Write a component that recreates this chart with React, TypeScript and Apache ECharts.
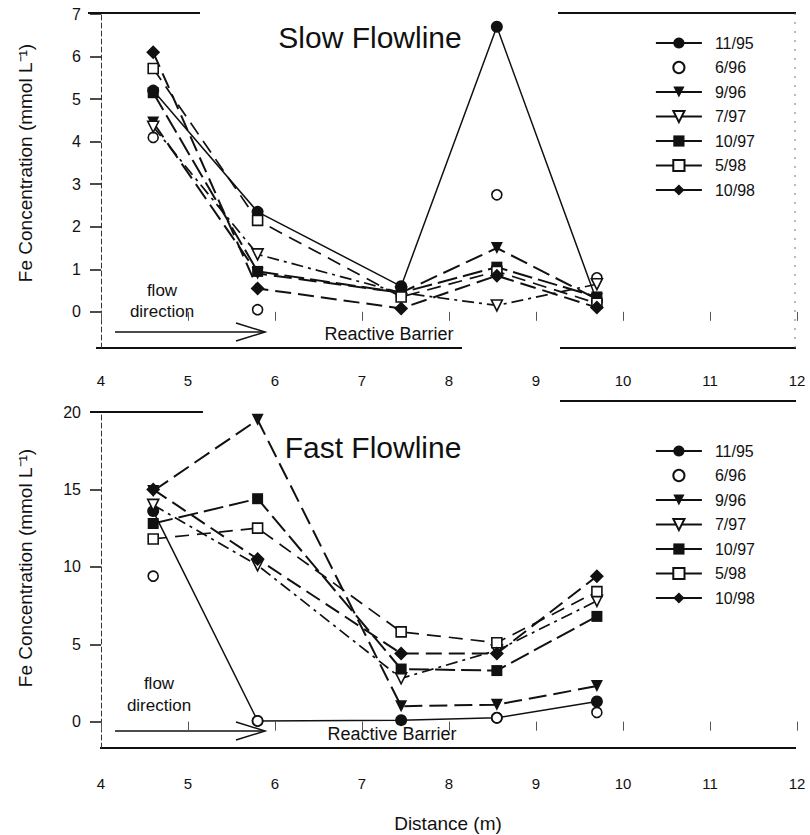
import React, { useEffect, useRef } from "react";
import * as echarts from "echarts";

// ---- data ----
const distances = [4.6, 5.8, 7.45, 8.55, 9.7];
const seriesNames = ["11/95", "6/96", "9/96", "7/97", "10/97", "5/98", "10/98"];

// Slow flowline (mmol/L)
const slow_11_95 = [5.2, 2.35, 0.6, 6.7, 0.25];
const slow_6_96 = [4.1, 0.05, 0.45, 2.75, 0.8];
const slow_9_96 = [4.45, 0.9, 0.45, 1.5, 0.3];
const slow_7_97 = [4.35, 1.35, 0.45, 0.15, 0.65];
const slow_10_97 = [5.15, 0.95, 0.45, 1.05, 0.35];
const slow_5_98 = [5.72, 2.15, 0.35, 0.95, 0.2];
const slow_10_98 = [6.1, 0.55, 0.08, 0.85, 0.1];

// Fast flowline (mmol/L)
const fast_11_95 = [13.6, 0.05, 0.1, 0.25, 1.3];
const fast_6_96 = [9.4, 0.05, null, 0.25, 0.6];
const fast_9_96 = [14.9, 19.5, 1.0, 1.1, 2.3];
const fast_7_97 = [14.0, 10.1, 2.8, 4.6, 7.8];
const fast_10_97 = [12.8, 14.4, 3.4, 3.3, 6.8];
const fast_5_98 = [11.8, 12.5, 5.8, 5.1, 8.4];
const fast_10_98 = [15.0, 10.5, 4.4, 4.4, 9.4];

const slowValues = [slow_11_95, slow_6_96, slow_9_96, slow_7_97, slow_10_97, slow_5_98, slow_10_98];
const fastValues = [fast_11_95, fast_6_96, fast_9_96, fast_7_97, fast_10_97, fast_5_98, fast_10_98];

const slowYTicks = [0, 1, 2, 3, 4, 5, 6, 7];
const fastYTicks = [0, 5, 10, 15, 20];

const FONT = "'Liberation Sans', Arial, Helvetica, sans-serif";
const INK = "#111";

type Style = { symbol: string; rotate: number; filled: boolean; size: number; line: any; width: number };
const styles: Style[] = [
  { symbol: "circle", rotate: 0, filled: true, size: 12, line: "solid", width: 1.5 },
  { symbol: "circle", rotate: 0, filled: false, size: 10, line: "solid", width: 0 },
  { symbol: "triangle", rotate: 180, filled: true, size: 12, line: [18, 7], width: 2 },
  { symbol: "triangle", rotate: 180, filled: false, size: 11, line: [12, 5, 3, 5], width: 1.7 },
  { symbol: "rect", rotate: 0, filled: true, size: 11, line: [20, 6], width: 2 },
  { symbol: "rect", rotate: 0, filled: false, size: 10, line: [14, 8], width: 1.7 },
  { symbol: "diamond", rotate: 0, filled: true, size: 14, line: [16, 7], width: 2 },
];

function buildSeries(values: (number | null)[][], panel: number) {
  return values.map((vals, i) => {
    const s = styles[i];
    return {
      type: "line",
      name: seriesNames[i],
      xAxisIndex: panel,
      yAxisIndex: panel,
      data: distances.map((d, j) => [d, vals[j]]),
      symbol: s.symbol,
      symbolRotate: s.rotate,
      symbolSize: s.size,
      showAllSymbol: true,
      connectNulls: false,
      itemStyle: { color: s.filled ? INK : "#fff", borderColor: INK, borderWidth: s.filled ? 0 : 1.6 },
      lineStyle: s.width === 0 ? { width: 0, opacity: 0 } : { color: INK, width: s.width, type: s.line },
      emphasis: { disabled: true },
    };
  });
}

function txt(x: number, y: number, text: string, size: number, extra: any = {}) {
  return {
    type: "text",
    x,
    y,
    silent: true,
    ...extra,
    style: { text, fill: INK, font: `${size}px ${FONT}`, align: "center", verticalAlign: "middle" },
  };
}
function ln(x1: number, y1: number, x2: number, y2: number, w = 1.8, dash: any = null, color = INK) {
  return {
    type: "line",
    silent: true,
    shape: { x1, y1, x2, y2 },
    style: { stroke: color, lineWidth: w, lineDash: dash },
  };
}
function arrow(y: number) {
  return [
    ln(115, y, 265, y, 1.5),
    { type: "polyline", silent: true, shape: { points: [[236, y - 9], [265, y], [236, y + 9]] }, style: { stroke: INK, lineWidth: 1.5, fill: null } },
  ];
}

export default function App() {
  const ref = useRef<HTMLDivElement>(null);
  useEffect(() => {
    document.body.style.margin = "0";
    if (!ref.current) return;
    const chart = echarts.init(ref.current, null, { renderer: "svg" });

    const xAxisBase = (gridIndex: number, margin: number) => ({
      type: "value",
      gridIndex,
      min: 4,
      max: 12,
      interval: 1,
      axisLine: { show: false },
      axisTick: { show: true, length: 9, lineStyle: { color: "#555", width: 1 } },
      axisLabel: { margin, color: INK, fontSize: 15, fontFamily: FONT },
      splitLine: { show: false },
    });
    const yAxisBase = (gridIndex: number, min: number, max: number, ticks: number[]) => ({
      type: "value",
      gridIndex,
      min,
      max,
      axisLine: { show: true, lineStyle: { color: "#333", width: 1, type: [5, 3] } },
      axisTick: { show: true, length: 11, customValues: ticks, lineStyle: { color: INK, width: 1.5 } },
      axisLabel: { margin: 20, customValues: ticks, color: INK, fontSize: 16, fontFamily: FONT },
      splitLine: { show: false },
    });
    const legendBase = (top: number) => ({
      orient: "vertical",
      left: 655,
      top,
      padding: 0,
      itemWidth: 46,
      itemHeight: 14,
      itemGap: 8.5,
      data: seriesNames,
      selectedMode: false,
      lineStyle: { type: "solid", width: 1.8 },
      textStyle: { color: INK, fontSize: 16, fontFamily: FONT, padding: [0, 0, 0, 8] },
    });

    chart.setOption({
      animation: false,
      backgroundColor: "#fff",
      grid: [
        { left: 101, top: 14, width: 696, height: 334 },
        { left: 101, top: 412, width: 696, height: 336 },
      ],
      xAxis: [xAxisBase(0, 25), xAxisBase(1, 28)],
      yAxis: [yAxisBase(0, -0.85, 7, slowYTicks), yAxisBase(1, -1.7, 20, fastYTicks)],
      legend: [legendBase(35), legendBase(443)],
      series: [...buildSeries(slowValues, 0), ...buildSeries(fastValues, 1)],
      graphic: [
        // frame segments, top panel
        ln(88, 13, 200, 13),
        ln(558, 13, 796, 13),
        ln(96, 348, 462, 348),
        ln(560, 348, 796, 348),
        ln(795, 13, 795, 348, 1, [2, 7], "#777"),
        // frame segments, bottom panel
        ln(90, 412, 203, 412),
        ln(560, 401, 796, 401),
        ln(100, 748, 796, 748),
        // annotations, top panel
        txt(370, 37, "Slow Flowline", 30),
        txt(162, 290, "flow", 17),
        txt(162, 311, "direction", 17),
        ...arrow(332),
        txt(389, 334, "Reactive Barrier", 18),
        // annotations, bottom panel
        txt(373, 447, "Fast Flowline", 30),
        txt(159, 683, "flow", 17),
        txt(159, 705, "direction", 17),
        ...arrow(731),
        txt(392, 734, "Reactive Barrier", 18),
        // axis titles
        txt(25, 163, "Fe Concentration (mmol L\u207B\u00B9)", 19, { rotation: Math.PI / 2 }),
        txt(25, 568, "Fe Concentration (mmol L\u207B\u00B9)", 19, { rotation: Math.PI / 2 }),
        txt(448, 823, "Distance (m)", 19),
      ],
    });
    return () => chart.dispose();
  }, []);
  return <div ref={ref} style={{ width: 810, height: 835 }} />;
}
